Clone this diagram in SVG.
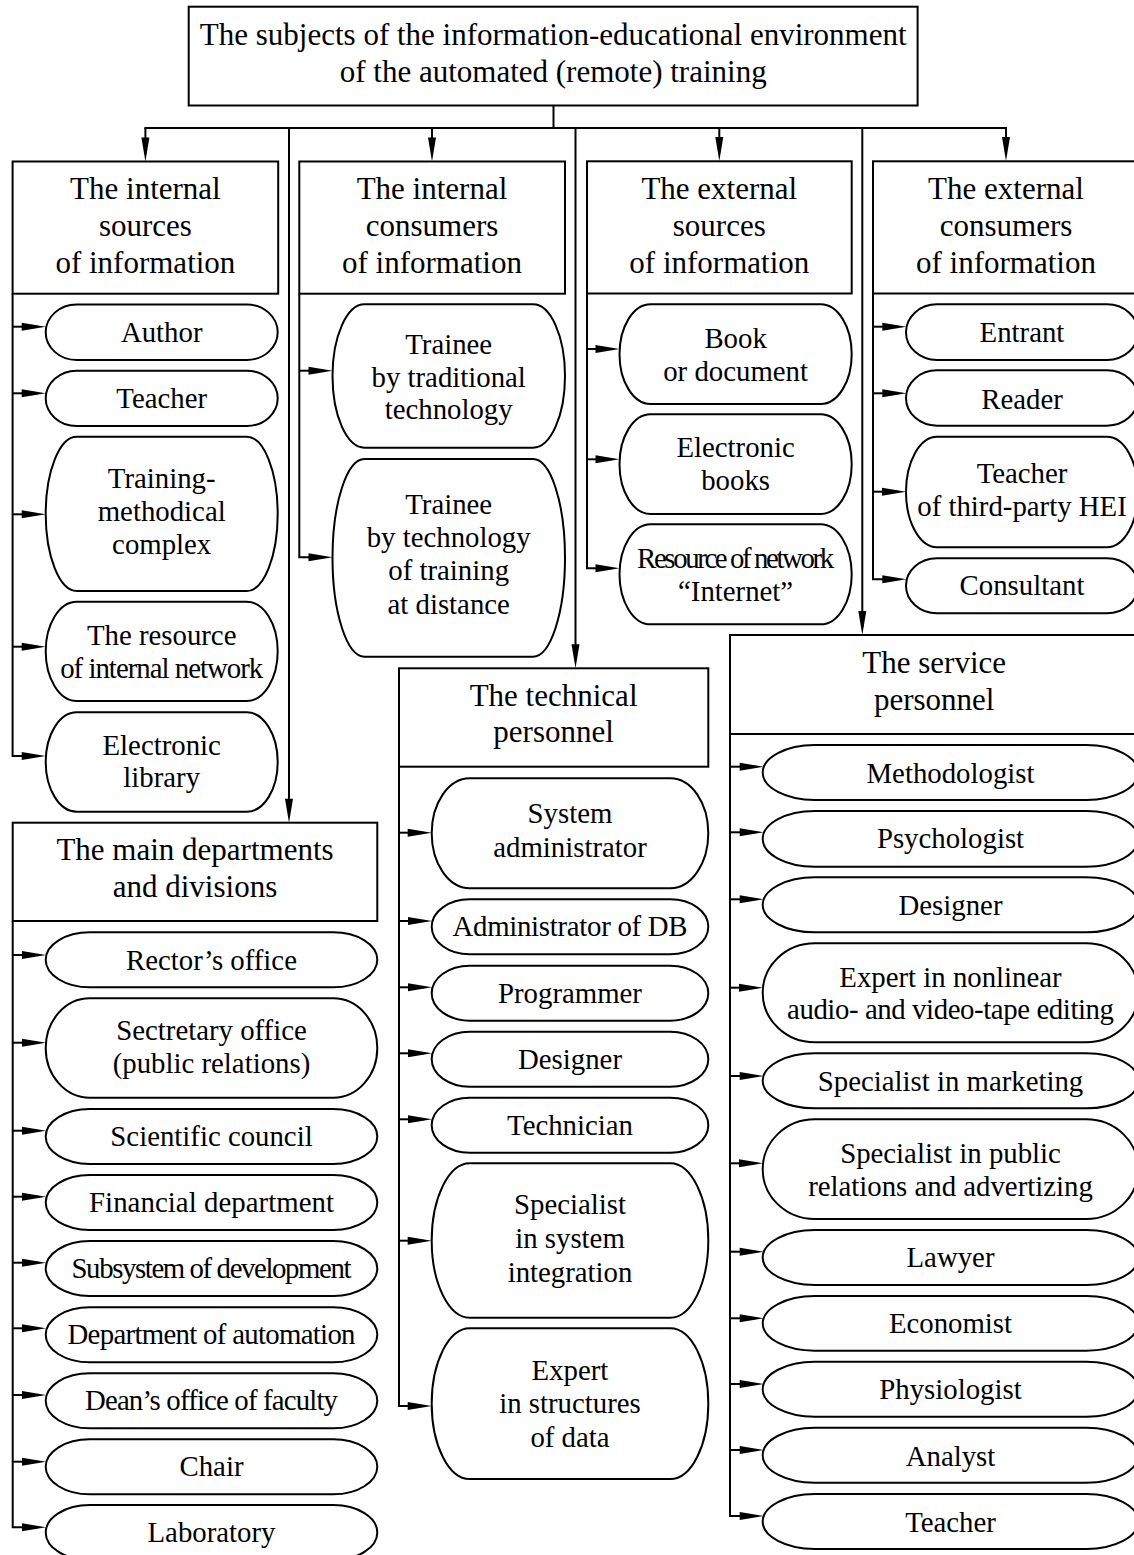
<svg xmlns="http://www.w3.org/2000/svg" width="1134" height="1555" viewBox="0 0 1134 1555">
<defs>
<style>
.box{fill:#fff;stroke:#000;stroke-width:2}
.ln{fill:none;stroke:#000;stroke-width:2}
.ar{fill:none;stroke:#000;stroke-width:2;marker-end:url(#ah)}
text{font-family:"Liberation Serif","Times New Roman",serif;fill:#000;text-anchor:middle}
.t{font-size:28.8px}
.h{font-size:31px}
</style>
<marker id="ah" markerUnits="userSpaceOnUse" markerWidth="24" markerHeight="8" refX="16" refY="4" orient="auto" overflow="visible">
<path d="M0,0 L24,4 L0,8 Z" fill="#000"/>
</marker>
</defs>
<rect width="1134" height="1555" fill="#fff"/>

<g id="connectors">
<path class="ln" d="M553.5 105.5 V128"/>
<path class="ln" stroke-linecap="square" d="M145.4 128 H1006"/>
<path class="ar" d="M145.4 128 V153.5"/>
<path class="ar" d="M432 128 V153.5"/>
<path class="ar" d="M719.3 128 V153"/>
<path class="ar" d="M1006 128 V153"/>
<path class="ar" d="M289 128 V814.7"/>
<path class="ar" d="M575.5 128 V660.3"/>
<path class="ar" d="M862.3 128 V627"/>
<!-- col1 -->
<path class="ar" d="M12.6 326.7 H37.7"/>
<path class="ar" d="M12.6 393.3 H37.7"/>
<path class="ar" d="M12.6 514.3 H37.7"/>
<path class="ar" d="M12.6 646.7 H37.7"/>
<path class="ar" d="M12.6 293.7 V756 H37.7"/>
<!-- col2 -->
<path class="ar" d="M299.3 370.7 H324.5"/>
<path class="ar" d="M299.3 293.7 V557.3 H324.5"/>
<!-- col3 -->
<path class="ar" d="M587 349 H611.5"/>
<path class="ar" d="M587 459.3 H611.5"/>
<path class="ar" d="M587 293.5 V568.3 H611.5"/>
<!-- col4 -->
<path class="ar" d="M873 326.7 H898.3"/>
<path class="ar" d="M873 393.3 H898.3"/>
<path class="ar" d="M873 491.7 H898"/>
<path class="ar" d="M873 293.5 V579.3 H898.3"/>
<!-- main departments -->
<path class="ar" d="M12.7 955 H38"/>
<path class="ar" d="M12.7 1042.7 H38"/>
<path class="ar" d="M12.7 1130.7 H38"/>
<path class="ar" d="M12.7 1196.7 H38"/>
<path class="ar" d="M12.7 1262.7 H38"/>
<path class="ar" d="M12.7 1328.3 H38"/>
<path class="ar" d="M12.7 1395 H38"/>
<path class="ar" d="M12.7 1461.7 H38"/>
<path class="ar" d="M12.7 921 V1527.3 H38"/>
<!-- technical -->
<path class="ar" d="M399 832.7 H423.7"/>
<path class="ar" d="M399 921 H424"/>
<path class="ar" d="M399 987.3 H424"/>
<path class="ar" d="M399 1053.3 H424"/>
<path class="ar" d="M399 1119.3 H424"/>
<path class="ar" d="M399 1240.7 H423.7"/>
<path class="ar" d="M399 766.7 V1406 H423.7"/>
<!-- service -->
<path class="ar" d="M730 766.7 H755.7"/>
<path class="ar" d="M730 832.3 H755.7"/>
<path class="ar" d="M730 899.3 H755.7"/>
<path class="ar" d="M730 987.7 H755"/>
<path class="ar" d="M730 1076 H755.7"/>
<path class="ar" d="M730 1163.3 H755"/>
<path class="ar" d="M730 1251.7 H755.7"/>
<path class="ar" d="M730 1318.3 H755.7"/>
<path class="ar" d="M730 1384 H755.7"/>
<path class="ar" d="M730 1450 H755.7"/>
<path class="ar" d="M730 734 V1516 H755.7"/>
</g>

<g id="title">
<rect class="box" x="188.7" y="6.7" width="728.9" height="98.8"/>
<text class="h" x="553.2" y="45">The subjects of the information-educational environment</text>
<text class="h" x="553.2" y="81.7">of the automated (remote) training</text>
</g>

<g id="internal-sources">
<rect class="box" x="12.6" y="161.5" width="265.6" height="132.2"/>
<text class="h" x="145.4" y="199.3">The internal</text>
<text class="h" x="145.4" y="236">sources</text>
<text class="h" x="145.4" y="272.7">of information</text>
</g>
<g id="internal-consumers">
<rect class="box" x="299.3" y="161.5" width="265.7" height="132.2"/>
<text class="h" x="432" y="199.3">The internal</text>
<text class="h" x="432" y="236">consumers</text>
<text class="h" x="432" y="272.7">of information</text>
</g>
<g id="external-sources">
<rect class="box" x="587" y="161.3" width="264.7" height="132.2"/>
<text class="h" x="719.3" y="199.3">The external</text>
<text class="h" x="719.3" y="236">sources</text>
<text class="h" x="719.3" y="272.7">of information</text>
</g>
<g id="external-consumers">
<rect class="box" x="873" y="161.3" width="266" height="132.2"/>
<text class="h" x="1006" y="199.3">The external</text>
<text class="h" x="1006" y="236">consumers</text>
<text class="h" x="1006" y="272.7">of information</text>
</g>

<!-- col1 items -->
<g id="author"><rect class="box" x="45.7" y="304.5" width="232" height="55.5" rx="31" ry="27.75"/><text class="t" x="161.7" y="341.7">Author</text></g>
<g id="teacher1"><rect class="box" x="45.7" y="370.7" width="232" height="55.3" rx="31" ry="27.65"/><text class="t" x="161.7" y="408">Teacher</text></g>
<g id="training-complex"><rect class="box" x="45.7" y="436.7" width="232" height="154.3" rx="31" ry="77.15"/><text class="t" x="161.7" y="487.5">Training-</text><text class="t" x="161.7" y="520.5">methodical</text><text class="t" x="161.7" y="554">complex</text></g>
<g id="internal-network"><rect class="box" x="45.7" y="601.7" width="232" height="99.3" rx="31" ry="49.65"/><text class="t" x="161.7" y="645">The resource</text><text class="t" x="161.7" y="678.3" textLength="203" lengthAdjust="spacing">of internal network</text></g>
<g id="electronic-library"><rect class="box" x="45.7" y="712.3" width="232" height="99.4" rx="31" ry="49.7"/><text class="t" x="161.7" y="754.5">Electronic</text><text class="t" x="161.7" y="787">library</text></g>

<!-- col2 items -->
<g id="trainee-traditional"><rect class="box" x="332.5" y="304.3" width="232.5" height="143.4" rx="32" ry="71.7"/><text class="t" x="448.7" y="354">Trainee</text><text class="t" x="448.7" y="386.7">by traditional</text><text class="t" x="448.7" y="419.3">technology</text></g>
<g id="trainee-distance"><rect class="box" x="332.5" y="459" width="232.5" height="197.7" rx="32" ry="98.85"/><text class="t" x="448.7" y="514">Trainee</text><text class="t" x="448.7" y="547">by technology</text><text class="t" x="448.7" y="580">of training</text><text class="t" x="448.7" y="613.5">at distance</text></g>

<!-- col3 items -->
<g id="book"><rect class="box" x="619.5" y="304.3" width="232.2" height="99.7" rx="31" ry="49.85"/><text class="t" x="735.6" y="348.3">Book</text><text class="t" x="735.6" y="380.7">or document</text></g>
<g id="electronic-books"><rect class="box" x="619.5" y="414.3" width="232.2" height="99.7" rx="31" ry="49.85"/><text class="t" x="735.6" y="457">Electronic</text><text class="t" x="735.6" y="490">books</text></g>
<g id="internet"><rect class="box" x="619.5" y="524.3" width="232.2" height="100" rx="31" ry="50"/><text class="t" x="735.6" y="568" textLength="197" lengthAdjust="spacing">Resource of network</text><text class="t" x="735.6" y="601.3">“Internet”</text></g>

<!-- col4 items -->
<g id="entrant"><rect class="box" x="906" y="304.3" width="232" height="55.7" rx="31" ry="27.85"/><text class="t" x="1022" y="341.7">Entrant</text></g>
<g id="reader"><rect class="box" x="906" y="370.3" width="232" height="55.4" rx="31" ry="27.7"/><text class="t" x="1022" y="408.5">Reader</text></g>
<g id="teacher-hei"><rect class="box" x="906" y="436.7" width="232" height="110.6" rx="31" ry="55.3"/><text class="t" x="1022" y="483.3">Teacher</text><text class="t" x="1022" y="516">of third-party HEI</text></g>
<g id="consultant"><rect class="box" x="906" y="558.3" width="232" height="55" rx="31" ry="27.5"/><text class="t" x="1022" y="595">Consultant</text></g>

<!-- main departments -->
<g id="main-departments">
<rect class="box" x="12.7" y="822.7" width="364.6" height="98.3"/>
<text class="h" x="195" y="860">The main departments</text>
<text class="h" x="195" y="896.7">and divisions</text>
</g>
<g id="rector"><rect class="box" x="45.7" y="932.3" width="331.6" height="55" rx="44" ry="27.5"/><text class="t" x="211.5" y="969.5">Rector’s office</text></g>
<g id="secretary"><rect class="box" x="45.7" y="998.3" width="331.6" height="99.4" rx="44" ry="49.7"/><text class="t" x="211.5" y="1039.5">Sectretary office</text><text class="t" x="211.5" y="1072.5">(public relations)</text></g>
<g id="scientific-council"><rect class="box" x="45.7" y="1109" width="331.6" height="55" rx="44" ry="27.5"/><text class="t" x="211.5" y="1146">Scientific council</text></g>
<g id="financial"><rect class="box" x="45.7" y="1175" width="331.6" height="55" rx="44" ry="27.5"/><text class="t" x="211.5" y="1212" textLength="245" lengthAdjust="spacing">Financial department</text></g>
<g id="subsystem"><rect class="box" x="45.7" y="1241" width="331.6" height="55" rx="44" ry="27.5"/><text class="t" x="211.5" y="1278" textLength="280" lengthAdjust="spacing">Subsystem of development</text></g>
<g id="automation"><rect class="box" x="45.7" y="1307.3" width="331.6" height="55" rx="44" ry="27.5"/><text class="t" x="211.5" y="1344.3" textLength="288" lengthAdjust="spacing">Department of automation</text></g>
<g id="deans-office"><rect class="box" x="45.7" y="1373.3" width="331.6" height="55" rx="44" ry="27.5"/><text class="t" x="211.5" y="1410.3" textLength="253" lengthAdjust="spacing">Dean’s office of faculty</text></g>
<g id="chair"><rect class="box" x="45.7" y="1439.3" width="331.6" height="55" rx="44" ry="27.5"/><text class="t" x="211.5" y="1476.3">Chair</text></g>
<g id="laboratory"><rect class="box" x="45.7" y="1505" width="331.6" height="55" rx="44" ry="27.5"/><text class="t" x="211.5" y="1542">Laboratory</text></g>

<!-- technical -->
<g id="technical-personnel">
<rect class="box" x="399" y="668.3" width="309.3" height="98.4"/>
<text class="h" x="553.6" y="706">The technical</text>
<text class="h" x="553.6" y="741.7">personnel</text>
</g>
<g id="sysadmin"><rect class="box" x="431.7" y="778.3" width="276.6" height="110" rx="38" ry="55"/><text class="t" x="570" y="822.7">System</text><text class="t" x="570" y="856.5">administrator</text></g>
<g id="db-admin"><rect class="box" x="431.7" y="899.3" width="276.6" height="55" rx="38" ry="27.5"/><text class="t" x="570" y="936.3" textLength="235" lengthAdjust="spacing">Administrator of DB</text></g>
<g id="programmer"><rect class="box" x="431.7" y="965.7" width="276.6" height="55" rx="38" ry="27.5"/><text class="t" x="570" y="1002.7">Programmer</text></g>
<g id="designer1"><rect class="box" x="431.7" y="1031.7" width="276.6" height="55" rx="38" ry="27.5"/><text class="t" x="570" y="1069">Designer</text></g>
<g id="technician"><rect class="box" x="431.7" y="1097.7" width="276.6" height="55" rx="38" ry="27.5"/><text class="t" x="570" y="1135">Technician</text></g>
<g id="integration"><rect class="box" x="431.7" y="1163.3" width="276.6" height="154.4" rx="38" ry="77.2"/><text class="t" x="570" y="1214.3">Specialist</text><text class="t" x="570" y="1248.3">in system</text><text class="t" x="570" y="1282.3">integration</text></g>
<g id="data-structures"><rect class="box" x="431.7" y="1328.3" width="276.6" height="150.7" rx="38" ry="75.35"/><text class="t" x="570" y="1380">Expert</text><text class="t" x="570" y="1413.3">in structures</text><text class="t" x="570" y="1446.7">of data</text></g>

<!-- service -->
<g id="service-personnel">
<rect class="box" x="730" y="635" width="408.5" height="99"/>
<text class="h" x="934.2" y="673.3">The service</text>
<text class="h" x="934.2" y="710">personnel</text>
</g>
<g id="methodologist"><rect class="box" x="762.7" y="745" width="375.6" height="55" rx="52" ry="27.5"/><text class="t" x="950.5" y="782.7">Methodologist</text></g>
<g id="psychologist"><rect class="box" x="762.7" y="811" width="375.6" height="55.7" rx="52" ry="27.85"/><text class="t" x="950.5" y="848.3">Psychologist</text></g>
<g id="designer2"><rect class="box" x="762.7" y="877.3" width="375.6" height="55" rx="52" ry="27.5"/><text class="t" x="950.5" y="915">Designer</text></g>
<g id="video-editing"><rect class="box" x="762.7" y="943.3" width="375.6" height="99" rx="52" ry="49.5"/><text class="t" x="950.5" y="986.7">Expert in nonlinear</text><text class="t" x="950.5" y="1019.3" textLength="327" lengthAdjust="spacing">audio- and video-tape editing</text></g>
<g id="marketing"><rect class="box" x="762.7" y="1053.3" width="375.6" height="55" rx="52" ry="27.5"/><text class="t" x="950.5" y="1091">Specialist in marketing</text></g>
<g id="public-relations"><rect class="box" x="762.7" y="1119.3" width="375.6" height="99.7" rx="52" ry="49.85"/><text class="t" x="950.5" y="1162.7">Specialist in public</text><text class="t" x="950.5" y="1195.7">relations and advertizing</text></g>
<g id="lawyer"><rect class="box" x="762.7" y="1230" width="375.6" height="55" rx="52" ry="27.5"/><text class="t" x="950.5" y="1266.7">Lawyer</text></g>
<g id="economist"><rect class="box" x="762.7" y="1296" width="375.6" height="54.7" rx="52" ry="27.35"/><text class="t" x="950.5" y="1333.3">Economist</text></g>
<g id="physiologist"><rect class="box" x="762.7" y="1361.7" width="375.6" height="55" rx="52" ry="27.5"/><text class="t" x="950.5" y="1399">Physiologist</text></g>
<g id="analyst"><rect class="box" x="762.7" y="1427.7" width="375.6" height="55" rx="52" ry="27.5"/><text class="t" x="950.5" y="1465.5">Analyst</text></g>
<g id="teacher2"><rect class="box" x="762.7" y="1494" width="375.6" height="55" rx="52" ry="27.5"/><text class="t" x="950.5" y="1531.7">Teacher</text></g>
</svg>
